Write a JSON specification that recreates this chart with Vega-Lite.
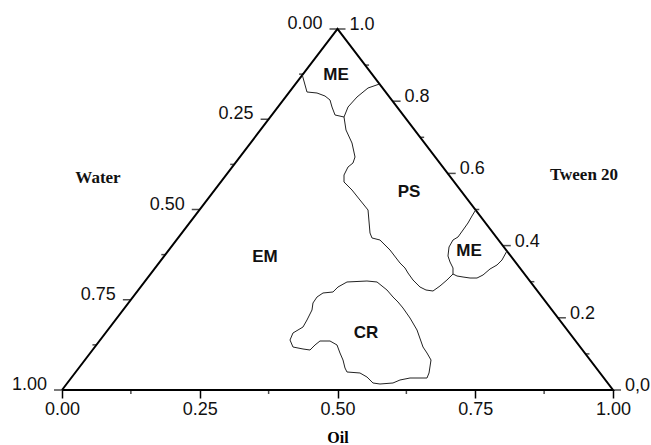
{
  "$schema": "https://vega.github.io/schema/vega-lite/v6.json",
  "width": 551,
  "height": 361,
  "autosize": {"type": "none"},
  "padding": {"left": 62, "top": 29, "right": 38, "bottom": 55},
  "background": "white",
  "config": {"view": {"stroke": null}, "font": "Liberation Sans"},
  "datasets": {
    "edges": [
      {"i": 0, "x": 0, "y": 0},
      {"i": 1, "x": 0.5, "y": 1},
      {"i": 2, "x": 1, "y": 0},
      {"i": 3, "x": 0, "y": 0}
    ],
    "curves": [
      {"curve": "A", "i": 0, "x": 0.436, "y": 0.873},
      {"curve": "A", "i": 1, "x": 0.4446, "y": 0.8255},
      {"curve": "A", "i": 2, "x": 0.4628, "y": 0.8227},
      {"curve": "A", "i": 3, "x": 0.4773, "y": 0.8144},
      {"curve": "A", "i": 4, "x": 0.4864, "y": 0.8033},
      {"curve": "A", "i": 5, "x": 0.49, "y": 0.7839},
      {"curve": "A", "i": 6, "x": 0.4955, "y": 0.7618},
      {"curve": "A", "i": 7, "x": 0.5118, "y": 0.7562},
      {"curve": "B", "i": 0, "x": 0.5118, "y": 0.7562},
      {"curve": "B", "i": 1, "x": 0.5191, "y": 0.7839},
      {"curve": "B", "i": 2, "x": 0.5354, "y": 0.8116},
      {"curve": "B", "i": 3, "x": 0.5554, "y": 0.8366},
      {"curve": "B", "i": 4, "x": 0.5762, "y": 0.8476},
      {"curve": "C", "i": 0, "x": 0.5118, "y": 0.7562},
      {"curve": "C", "i": 1, "x": 0.5154, "y": 0.7202},
      {"curve": "C", "i": 2, "x": 0.5263, "y": 0.6842},
      {"curve": "C", "i": 3, "x": 0.5318, "y": 0.6454},
      {"curve": "C", "i": 4, "x": 0.5281, "y": 0.6288},
      {"curve": "C", "i": 5, "x": 0.5191, "y": 0.6177},
      {"curve": "C", "i": 6, "x": 0.5118, "y": 0.5956},
      {"curve": "C", "i": 7, "x": 0.5118, "y": 0.5762},
      {"curve": "C", "i": 8, "x": 0.5263, "y": 0.554},
      {"curve": "C", "i": 9, "x": 0.5408, "y": 0.5263},
      {"curve": "C", "i": 10, "x": 0.5554, "y": 0.4986},
      {"curve": "C", "i": 11, "x": 0.559, "y": 0.4349},
      {"curve": "C", "i": 12, "x": 0.5626, "y": 0.4211},
      {"curve": "C", "i": 13, "x": 0.5771, "y": 0.4155},
      {"curve": "C", "i": 14, "x": 0.5953, "y": 0.3878},
      {"curve": "C", "i": 15, "x": 0.6134, "y": 0.3518},
      {"curve": "C", "i": 16, "x": 0.6225, "y": 0.338},
      {"curve": "C", "i": 17, "x": 0.6279, "y": 0.3241},
      {"curve": "C", "i": 18, "x": 0.637, "y": 0.3047},
      {"curve": "C", "i": 19, "x": 0.6497, "y": 0.2853},
      {"curve": "C", "i": 20, "x": 0.6606, "y": 0.277},
      {"curve": "C", "i": 21, "x": 0.6733, "y": 0.2742},
      {"curve": "C", "i": 22, "x": 0.686, "y": 0.2881},
      {"curve": "C", "i": 23, "x": 0.6987, "y": 0.3047},
      {"curve": "C", "i": 24, "x": 0.7096, "y": 0.3213},
      {"curve": "D", "i": 0, "x": 0.7096, "y": 0.3213},
      {"curve": "D", "i": 1, "x": 0.7096, "y": 0.338},
      {"curve": "D", "i": 2, "x": 0.7042, "y": 0.3546},
      {"curve": "D", "i": 3, "x": 0.7005, "y": 0.3712},
      {"curve": "D", "i": 4, "x": 0.7024, "y": 0.3961},
      {"curve": "D", "i": 5, "x": 0.7096, "y": 0.4155},
      {"curve": "D", "i": 6, "x": 0.7187, "y": 0.4238},
      {"curve": "D", "i": 7, "x": 0.7278, "y": 0.4432},
      {"curve": "D", "i": 8, "x": 0.7368, "y": 0.4626},
      {"curve": "D", "i": 9, "x": 0.7441, "y": 0.482},
      {"curve": "D", "i": 10, "x": 0.7507, "y": 0.4986},
      {"curve": "E", "i": 0, "x": 0.7096, "y": 0.3213},
      {"curve": "E", "i": 1, "x": 0.7169, "y": 0.3158},
      {"curve": "E", "i": 2, "x": 0.7278, "y": 0.313},
      {"curve": "E", "i": 3, "x": 0.7405, "y": 0.3102},
      {"curve": "E", "i": 4, "x": 0.7532, "y": 0.3102},
      {"curve": "E", "i": 5, "x": 0.7641, "y": 0.3186},
      {"curve": "E", "i": 6, "x": 0.7768, "y": 0.3352},
      {"curve": "E", "i": 7, "x": 0.7895, "y": 0.3463},
      {"curve": "E", "i": 8, "x": 0.7985, "y": 0.3601},
      {"curve": "E", "i": 9, "x": 0.8075, "y": 0.385},
      {"curve": "F", "i": 0, "x": 0.5717, "y": 0.2992},
      {"curve": "F", "i": 1, "x": 0.5535, "y": 0.3019},
      {"curve": "F", "i": 2, "x": 0.5172, "y": 0.2992},
      {"curve": "F", "i": 3, "x": 0.5009, "y": 0.2853},
      {"curve": "F", "i": 4, "x": 0.4918, "y": 0.2715},
      {"curve": "F", "i": 5, "x": 0.4737, "y": 0.2687},
      {"curve": "F", "i": 6, "x": 0.4628, "y": 0.2576},
      {"curve": "F", "i": 7, "x": 0.4555, "y": 0.241},
      {"curve": "F", "i": 8, "x": 0.4537, "y": 0.2216},
      {"curve": "F", "i": 9, "x": 0.4446, "y": 0.1939},
      {"curve": "F", "i": 10, "x": 0.4374, "y": 0.1745},
      {"curve": "F", "i": 11, "x": 0.4192, "y": 0.1579},
      {"curve": "F", "i": 12, "x": 0.4138, "y": 0.1385},
      {"curve": "F", "i": 13, "x": 0.4192, "y": 0.1191},
      {"curve": "F", "i": 14, "x": 0.4374, "y": 0.1136},
      {"curve": "F", "i": 15, "x": 0.4501, "y": 0.1108},
      {"curve": "F", "i": 16, "x": 0.4592, "y": 0.1247},
      {"curve": "F", "i": 17, "x": 0.4682, "y": 0.1357},
      {"curve": "F", "i": 18, "x": 0.4864, "y": 0.1357},
      {"curve": "F", "i": 19, "x": 0.4991, "y": 0.1247},
      {"curve": "F", "i": 20, "x": 0.5045, "y": 0.1025},
      {"curve": "F", "i": 21, "x": 0.51, "y": 0.0831},
      {"curve": "F", "i": 22, "x": 0.5136, "y": 0.0609},
      {"curve": "F", "i": 23, "x": 0.5172, "y": 0.0499},
      {"curve": "F", "i": 24, "x": 0.5408, "y": 0.0471},
      {"curve": "F", "i": 25, "x": 0.5535, "y": 0.036},
      {"curve": "F", "i": 26, "x": 0.5644, "y": 0.0194},
      {"curve": "F", "i": 27, "x": 0.5771, "y": 0.0166},
      {"curve": "F", "i": 28, "x": 0.6007, "y": 0.0194},
      {"curve": "F", "i": 29, "x": 0.6134, "y": 0.0277},
      {"curve": "F", "i": 30, "x": 0.6316, "y": 0.0332},
      {"curve": "F", "i": 31, "x": 0.6624, "y": 0.0332},
      {"curve": "F", "i": 32, "x": 0.6661, "y": 0.0471},
      {"curve": "F", "i": 33, "x": 0.6697, "y": 0.0831},
      {"curve": "F", "i": 34, "x": 0.6624, "y": 0.1025},
      {"curve": "F", "i": 35, "x": 0.6552, "y": 0.1191},
      {"curve": "F", "i": 36, "x": 0.6443, "y": 0.1662},
      {"curve": "F", "i": 37, "x": 0.6316, "y": 0.1994},
      {"curve": "F", "i": 38, "x": 0.6189, "y": 0.2271},
      {"curve": "F", "i": 39, "x": 0.6098, "y": 0.2438},
      {"curve": "F", "i": 40, "x": 0.6007, "y": 0.2576},
      {"curve": "F", "i": 41, "x": 0.5898, "y": 0.277},
      {"curve": "F", "i": 42, "x": 0.5717, "y": 0.2992}
    ],
    "bottomMinor": [
      {"x": 0.125, "y": 0},
      {"x": 0.375, "y": 0},
      {"x": 0.625, "y": 0},
      {"x": 0.875, "y": 0}
    ],
    "leftMajor": [
      {"x": 0.5, "y": 1, "label": "0.00"},
      {"x": 0.375, "y": 0.75, "label": "0.25"},
      {"x": 0.25, "y": 0.5, "label": "0.50"},
      {"x": 0.125, "y": 0.25, "label": "0.75"},
      {"x": 0, "y": 0, "label": "1.00"}
    ],
    "leftMinor": [
      {"x": 0.4375, "y": 0.875},
      {"x": 0.3125, "y": 0.625},
      {"x": 0.1875, "y": 0.375},
      {"x": 0.0625, "y": 0.125}
    ],
    "rightMajor": [
      {"x": 0.5, "y": 1, "label": "1.0"},
      {"x": 0.6, "y": 0.8, "label": "0.8"},
      {"x": 0.7, "y": 0.6, "label": "0.6"},
      {"x": 0.8, "y": 0.4, "label": "0.4"},
      {"x": 0.9, "y": 0.2, "label": "0.2"},
      {"x": 1, "y": 0, "label": "0,0"}
    ],
    "rightMinor": [
      {"x": 0.55, "y": 0.9},
      {"x": 0.65, "y": 0.7},
      {"x": 0.75, "y": 0.5},
      {"x": 0.85, "y": 0.3},
      {"x": 0.95, "y": 0.1}
    ],
    "regions": [
      {"label": "ME", "x": 0.4973, "y": 0.8726},
      {"label": "PS", "x": 0.6298, "y": 0.5485},
      {"label": "ME", "x": 0.7387, "y": 0.385},
      {"label": "EM", "x": 0.3684, "y": 0.3684},
      {"label": "CR", "x": 0.5517, "y": 0.1579}
    ],
    "sideTitles": [
      {"label": "Water", "x": 0.0653, "y": 0.5873},
      {"label": "Tween 20", "x": 0.9474, "y": 0.5956}
    ]
  },
  "encoding": {
    "x": {
      "field": "x",
      "type": "quantitative",
      "scale": {"domain": [0, 1], "nice": false, "zero": false},
      "axis": {
        "values": [0, 0.25, 0.5, 0.75, 1],
        "format": ".2f",
        "title": "Oil",
        "domain": false,
        "grid": false,
        "labelFlush": false,
        "labelOverlap": false,
        "labelFont": "Liberation Sans",
        "labelFontSize": 18,
        "labelColor": "#111111",
        "labelPadding": 2,
        "tickSize": 8,
        "tickWidth": 1.5,
        "tickColor": "black",
        "titleFont": "Liberation Serif",
        "titleFontWeight": "bold",
        "titleFontSize": 16,
        "titleColor": "black",
        "titlePadding": 11
      }
    },
    "y": {
      "field": "y",
      "type": "quantitative",
      "scale": {"domain": [0, 1], "nice": false, "zero": false},
      "axis": null
    }
  },
  "layer": [
    {
      "data": {"name": "edges"},
      "mark": {"type": "line", "color": "black", "strokeWidth": 2, "strokeJoin": "miter"},
      "encoding": {"order": {"field": "i", "type": "quantitative"}}
    },
    {
      "data": {"name": "curves"},
      "mark": {"type": "line", "color": "#222222", "strokeWidth": 1},
      "encoding": {
        "detail": {"field": "curve", "type": "nominal"},
        "order": {"field": "i", "type": "quantitative"}
      }
    },
    {
      "data": {"name": "bottomMinor"},
      "mark": {"type": "tick", "orient": "vertical", "size": 4, "thickness": 1.5, "yOffset": 2, "color": "black"}
    },
    {
      "data": {"name": "leftMajor"},
      "mark": {"type": "tick", "orient": "horizontal", "size": 8, "thickness": 1.5, "xOffset": -4, "color": "black"}
    },
    {
      "data": {"name": "leftMinor"},
      "mark": {"type": "tick", "orient": "horizontal", "size": 4, "thickness": 1.5, "xOffset": -2, "color": "black"}
    },
    {
      "data": {"name": "rightMajor"},
      "mark": {"type": "tick", "orient": "horizontal", "size": 8, "thickness": 1.5, "xOffset": 4, "color": "black"}
    },
    {
      "data": {"name": "rightMinor"},
      "mark": {"type": "tick", "orient": "horizontal", "size": 4, "thickness": 1.5, "xOffset": 2, "color": "black"}
    },
    {
      "data": {"name": "leftMajor"},
      "mark": {"type": "text", "align": "right", "baseline": "middle", "dx": -15, "dy": -5, "fontSize": 18, "font": "Liberation Sans", "color": "#111111"},
      "encoding": {"text": {"field": "label", "type": "nominal"}}
    },
    {
      "data": {"name": "rightMajor"},
      "mark": {"type": "text", "align": "left", "baseline": "middle", "dx": 12, "dy": -4, "fontSize": 18, "font": "Liberation Sans", "color": "#111111"},
      "encoding": {"text": {"field": "label", "type": "nominal"}}
    },
    {
      "data": {"name": "regions"},
      "mark": {"type": "text", "align": "center", "baseline": "middle", "fontSize": 17, "fontWeight": "bold", "font": "Liberation Sans", "color": "#111111"},
      "encoding": {"text": {"field": "label", "type": "nominal"}}
    },
    {
      "data": {"name": "sideTitles"},
      "mark": {"type": "text", "align": "center", "baseline": "middle", "fontSize": 17, "fontWeight": "bold", "font": "Liberation Serif", "color": "#111111"},
      "encoding": {"text": {"field": "label", "type": "nominal"}}
    }
  ]
}
